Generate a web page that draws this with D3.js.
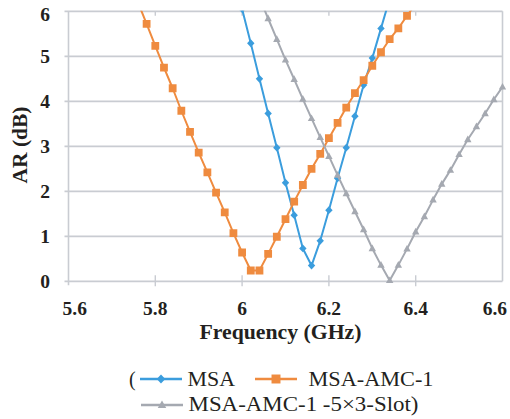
<!DOCTYPE html>
<html>
<head>
<meta charset="utf-8">
<script src="https://cdn.jsdelivr.net/npm/d3@7"></script>
<style>
  html, body { margin: 0; padding: 0; background: #ffffff; }
  svg { display: block; }
  svg text { font-family: "Liberation Serif", "Times New Roman", Tinos, "DejaVu Serif", serif; }
</style>
</head>
<body>
<svg id="chart" width="510" height="419"></svg>
<script>
// Axial ratio (AR) versus frequency for three antenna configurations.
const seriesNames = ["MSA", "MSA-AMC-1", "MSA-AMC-1 -5\u00d73-Slot"];

const freqMSA = [6.00, 6.02, 6.04, 6.06, 6.08, 6.10, 6.12, 6.14, 6.16, 6.18,
                 6.20, 6.22, 6.24, 6.26, 6.28, 6.30, 6.32, 6.34];
const arMSA   = [6.05, 5.29, 4.50, 3.73, 2.97, 2.19, 1.47, 0.73, 0.35, 0.90,
                 1.58, 2.29, 2.97, 3.67, 4.36, 4.96, 5.62, 6.28];

const freqAMC = [5.76, 5.78, 5.80, 5.82, 5.84, 5.86, 5.88, 5.90, 5.92, 5.94,
                 5.96, 5.98, 6.00, 6.02, 6.04, 6.06, 6.08, 6.10, 6.12, 6.14,
                 6.16, 6.18, 6.20, 6.22, 6.24, 6.26, 6.28, 6.30, 6.32, 6.34,
                 6.36, 6.38, 6.40];
const arAMC   = [6.20, 5.72, 5.23, 4.75, 4.29, 3.79, 3.32, 2.86, 2.42, 1.97,
                 1.53, 1.07, 0.64, 0.24, 0.24, 0.61, 0.99, 1.38, 1.77, 2.14,
                 2.50, 2.83, 3.18, 3.52, 3.86, 4.18, 4.47, 4.79, 5.09, 5.38,
                 5.62, 5.90, 6.17];

const freqSlot = [6.04, 6.06, 6.08, 6.10, 6.12, 6.14, 6.16, 6.18, 6.20, 6.22,
                  6.24, 6.26, 6.28, 6.30, 6.32, 6.34, 6.36, 6.38, 6.40, 6.42,
                  6.44, 6.46, 6.48, 6.50, 6.52, 6.54, 6.56, 6.58, 6.60];
const arSlot   = [6.30, 5.84, 5.38, 4.92, 4.49, 4.05, 3.62, 3.20, 2.78, 2.36,
                  1.95, 1.55, 1.15, 0.73, 0.36, 0.02, 0.36, 0.72, 1.10, 1.44,
                  1.81, 2.16, 2.47, 2.82, 3.15, 3.44, 3.73, 4.04, 4.32];

const xTicks = [5.6, 5.8, 6.0, 6.2, 6.4, 6.6];
const xTickLabels = ["5.6", "5.8", "6", "6.2", "6.4", "6.6"];
const yTicks = [0, 1, 2, 3, 4, 5, 6];

const colors = ["#3b9ddd", "#ef8b3f", "#a5a9b1"];
const markers = ["diamond", "square", "triangle"];

const series = [
  { name: seriesNames[0], pts: freqMSA.map((f, i) => [f, arMSA[i]]) },
  { name: seriesNames[1], pts: freqAMC.map((f, i) => [f, arAMC[i]]) },
  { name: seriesNames[2], pts: freqSlot.map((f, i) => [f, arSlot[i]]) }
];

const svg = d3.select("#chart");
const plotL = 68.5, plotR = 502.5, plotT = 11.3, plotB = 281.3;

const x = d3.scaleLinear().domain([5.6, 6.6]).range([plotL, plotR]);
const y = d3.scaleLinear().domain([0, 6]).range([plotB, plotT]);

const gridColor = "#c9ccd2";
const textColor = "#231f20";

// horizontal gridlines (with small outer ticks on the left)
svg.append("g").selectAll("line").data(yTicks).join("line")
  .attr("x1", plotL - 4).attr("x2", plotR)
  .attr("y1", d => y(d)).attr("y2", d => y(d))
  .attr("stroke", gridColor).attr("stroke-width", 1.8);

// left axis line and right border
svg.append("line").attr("x1", plotL).attr("x2", plotL).attr("y1", plotT).attr("y2", plotB + 4)
  .attr("stroke", gridColor).attr("stroke-width", 1.6);
svg.append("line").attr("x1", plotR).attr("x2", plotR).attr("y1", plotT).attr("y2", plotB)
  .attr("stroke", gridColor).attr("stroke-width", 1.6);

// bottom ticks crossing the axis, short inner ticks at the top
svg.append("g").selectAll("line").data(xTicks.slice(1, -1)).join("line")
  .attr("x1", d => x(d)).attr("x2", d => x(d))
  .attr("y1", plotB - 6).attr("y2", plotB + 5)
  .attr("stroke", gridColor).attr("stroke-width", 1.4);
svg.append("g").selectAll("line").data(xTicks.slice(1, -1)).join("line")
  .attr("x1", d => x(d)).attr("x2", d => x(d))
  .attr("y1", plotT).attr("y2", plotT + 4.5)
  .attr("stroke", gridColor).attr("stroke-width", 1.4);

// y tick labels (top label nudged down to stay inside the frame)
svg.append("g").selectAll("text").data(yTicks).join("text")
  .attr("x", 50).attr("y", d => y(d) + (d === 6 ? 3 : 0))
  .attr("dy", "0.35em")
  .attr("text-anchor", "end")
  .attr("font-weight", "bold").attr("font-size", 19.5)
  .attr("fill", textColor)
  .text(d => d);

// x tick labels (end labels pulled inward)
svg.append("g").selectAll("text").data(xTicks).join("text")
  .attr("x", (d, i) => i === 0 ? x(d) - 6 : (i === xTicks.length - 1 ? x(d) + 4.5 : x(d)))
  .attr("y", 315)
  .attr("text-anchor", (d, i) => i === 0 ? "start" : (i === xTicks.length - 1 ? "end" : "middle"))
  .attr("font-weight", "bold").attr("font-size", 19.5)
  .attr("fill", textColor)
  .text((d, i) => xTickLabels[i]);

// axis titles
svg.append("text")
  .attr("x", 280.5).attr("y", 338.5)
  .attr("text-anchor", "middle")
  .attr("font-weight", "bold").attr("font-size", 20)
  .attr("textLength", 162).attr("lengthAdjust", "spacingAndGlyphs")
  .attr("fill", textColor)
  .text("Frequency (GHz)");

svg.append("text")
  .attr("transform", "translate(27,145) rotate(-90)")
  .attr("text-anchor", "middle")
  .attr("font-weight", "bold").attr("font-size", 20)
  .attr("textLength", 77).attr("lengthAdjust", "spacingAndGlyphs")
  .attr("fill", textColor)
  .text("AR (dB)");

// marker shapes
function markerPath(kind) {
  if (kind === "diamond") return "M0,-3.9L3.7,0L0,3.9L-3.7,0Z";
  if (kind === "square") return "M-3.9,-3.9H3.9V3.9H-3.9Z";
  return "M0,-4L3.7,2.7H-3.7Z";
}

// plot clip
svg.append("defs").append("clipPath").attr("id", "plotClip")
  .append("rect").attr("x", plotL).attr("y", plotT - 0.5)
  .attr("width", plotR - plotL + 4).attr("height", plotB - plotT + 6);

const line = d3.line().x(d => x(d[0])).y(d => y(d[1]));
const plot = svg.append("g").attr("clip-path", "url(#plotClip)");

series.forEach((s, i) => {
  const g = plot.append("g");
  g.append("path").datum(s.pts)
    .attr("d", line)
    .attr("fill", "none")
    .attr("stroke", colors[i])
    .attr("stroke-width", 2)
    .attr("stroke-linejoin", "round");
  g.selectAll("path.m").data(s.pts).join("path")
    .attr("class", "m")
    .attr("transform", d => `translate(${x(d[0])},${y(d[1])})`)
    .attr("d", markerPath(markers[i]))
    .attr("fill", colors[i]);
});

// legend
const lg = svg.append("g")
  .attr("font-size", 20).attr("fill", textColor);
lg.append("text").attr("x", 129).attr("y", 386).text("(");

const legendItems = [
  { lx: 140, ly: 379, tx: 187.5, ty: 386, len: 47.5, label: seriesNames[0] },
  { lx: 255, ly: 379, tx: 308.5, ty: 386, len: 125, label: seriesNames[1] },
  { lx: 141, ly: 405, tx: 188.5, ty: 411, len: 230, label: seriesNames[2] + ")" }
];
legendItems.forEach((it, i) => {
  lg.append("line")
    .attr("x1", it.lx).attr("x2", it.lx + 42)
    .attr("y1", it.ly).attr("y2", it.ly)
    .attr("stroke", colors[i]).attr("stroke-width", 2.6);
  lg.append("path")
    .attr("transform", `translate(${it.lx + 21},${it.ly}) scale(1.15)`)
    .attr("d", markerPath(markers[i]))
    .attr("fill", colors[i]);
  lg.append("text")
    .attr("x", it.tx).attr("y", it.ty)
    .attr("textLength", it.len).attr("lengthAdjust", "spacingAndGlyphs")
    .text(it.label);
});
</script>
</body>
</html>
